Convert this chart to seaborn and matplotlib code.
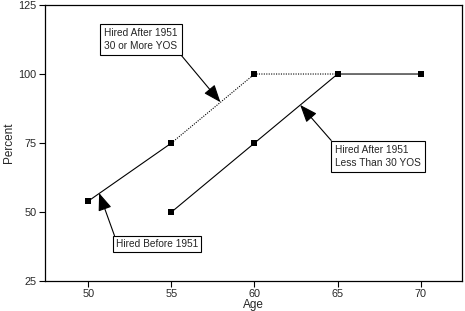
import matplotlib
matplotlib.use("Agg")
import matplotlib.pyplot as plt
import seaborn as sns
import pandas as pd

# Data
before_age = [50, 55]
before_pct = [54, 75]
after30_age = [55, 60, 65]
after30_pct = [75, 100, 100]
afterlt30_age = [55, 60, 65, 70]
afterlt30_pct = [50, 75, 100, 100]

series_names = ["Hired Before 1951", "Hired After 1951 30 or More YOS", "Hired After 1951 Less Than 30 YOS"]
x_ticks = [50, 55, 60, 65, 70]
y_ticks = [25, 50, 75, 100, 125]

df = pd.concat([
    pd.DataFrame({"Age": before_age, "Percent": before_pct, "Series": series_names[0]}),
    pd.DataFrame({"Age": after30_age, "Percent": after30_pct, "Series": series_names[1]}),
    pd.DataFrame({"Age": afterlt30_age, "Percent": afterlt30_pct, "Series": series_names[2]}),
])

sns.set_style("ticks")
plt.rcParams['font.family'] = ['Liberation Sans', 'DejaVu Sans']

fig = plt.figure(figsize=(4.65, 3.11), dpi=100)
ax = fig.add_axes([0.097, 0.096, 0.897, 0.888])

sns.lineplot(data=df, x="Age", y="Percent", hue="Series", style="Series",
             palette={s: "black" for s in series_names},
             dashes={series_names[0]: "", series_names[1]: (1, 1.2), series_names[2]: ""},
             markers={s: "s" for s in series_names},
             markersize=4.5, linewidth=0.8, markeredgewidth=0,
             legend=False, ax=ax)

ax.set_xlim(47.4, 72.5)
ax.set_ylim(25, 125)
ax.set_xticks(x_ticks)
ax.set_yticks(y_ticks)
ax.tick_params(axis='both', labelsize=7.8, length=4, width=0.8, color='black', pad=2)
for sp in ax.spines.values():
    sp.set_visible(True)
    sp.set_color('black')
    sp.set_linewidth(0.9)
ax.set_xlabel("Age", fontsize=8.5)
ax.set_ylabel("Percent", fontsize=8.5)
ax.xaxis.set_label_coords(0.5, -0.087)
ax.xaxis.label.set_va('center')
ax.yaxis.set_label_coords(-0.087, 0.5)
ax.yaxis.label.set_va('center')

bbox = dict(boxstyle='square,pad=0.4', fc='white', ec='black', lw=0.8)

def arrow(rel):
    return dict(arrowstyle='-|>,head_length=0.9,head_width=0.35', color='black', lw=0.8,
                shrinkA=0, shrinkB=0, relpos=rel, mutation_scale=12)

ax.annotate("Hired After 1951\n30 or More YOS", xy=(57.95, 89.8), xytext=(50.95, 112.5),
            ha='left', va='center', fontsize=7.3, bbox=bbox, arrowprops=arrow((1, 0)),
            linespacing=1.35)
ax.annotate("Hired After 1951\nLess Than 30 YOS", xy=(62.75, 88.8), xytext=(64.85, 70.2),
            ha='left', va='center', fontsize=7.3, bbox=bbox, arrowprops=arrow((0, 1)),
            linespacing=1.35)
ax.annotate("Hired Before 1951", xy=(50.65, 56.9), xytext=(51.65, 38.4),
            ha='left', va='center', fontsize=7.3, bbox=dict(boxstyle='square,pad=0.3', fc='white', ec='black', lw=0.8),
            arrowprops=arrow((0, 1)))

fig.savefig("out.png", dpi=100)
